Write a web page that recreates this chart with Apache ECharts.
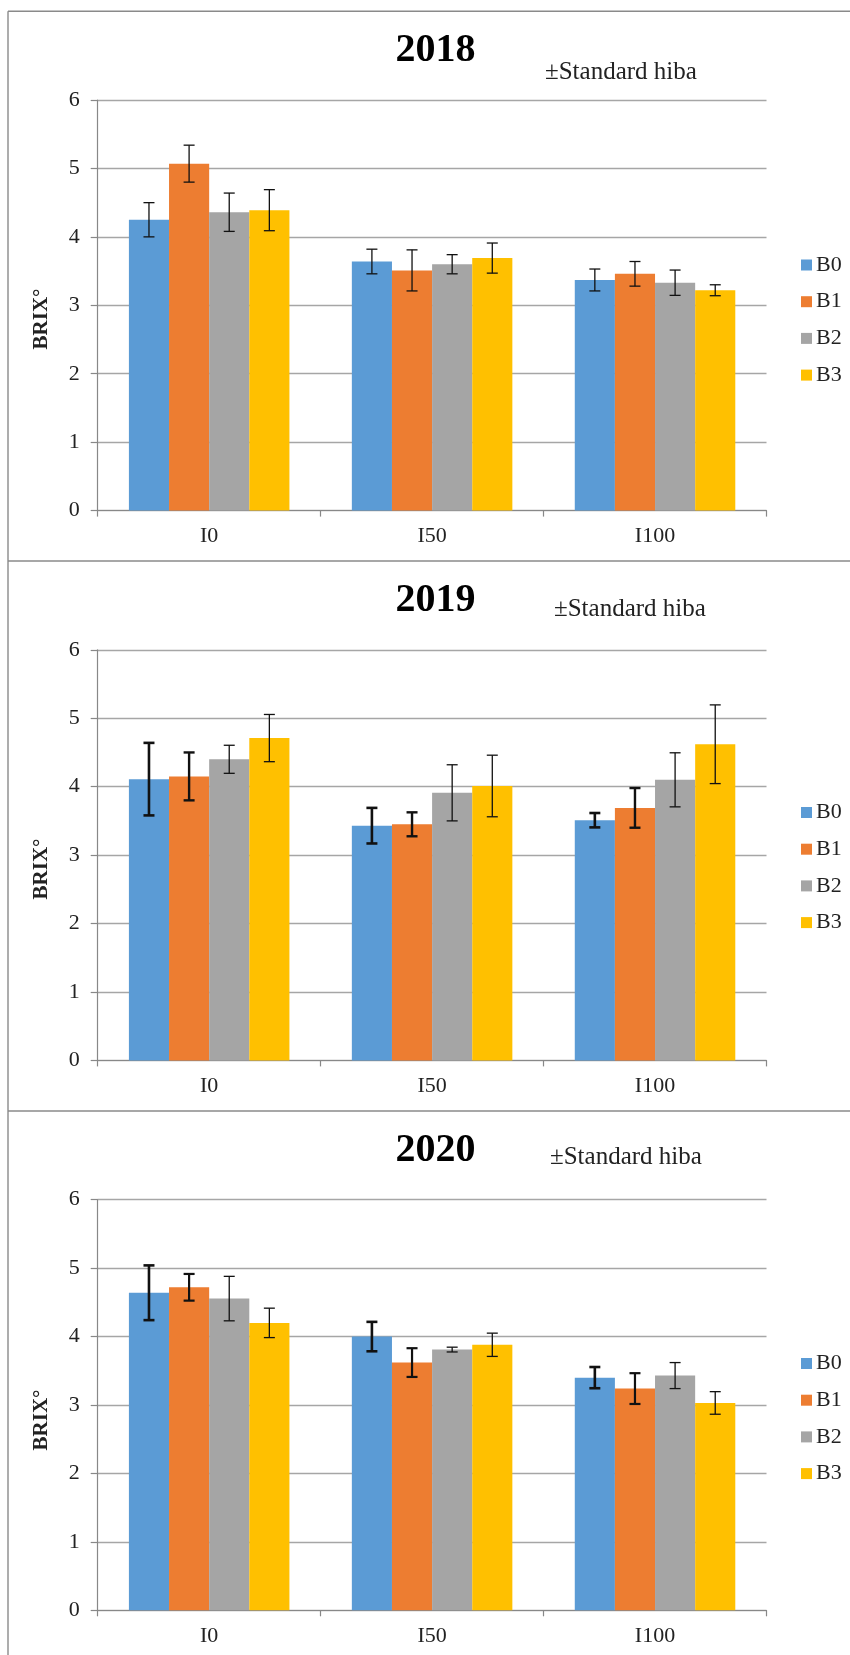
<!DOCTYPE html>
<html>
<head>
<meta charset="utf-8">
<title>BRIX° 2018–2020</title>
<script src="https://cdn.jsdelivr.net/npm/echarts@6/dist/echarts.min.js"></script>
<style>
  html, body { margin: 0; padding: 0; background: #fff; }
  #chart { width: 850px; height: 1655px; }
</style>
</head>
<body>
<div id="chart"></div>
<script>
// Irrigation levels on the x axis, treatments as the bar series
const categories = ['I0', 'I50', 'I100'];
const treatments = ['B0', 'B1', 'B2', 'B3'];
const years = ['2018', '2019', '2020'];
const yTicks = [0, 1, 2, 3, 4, 5, 6];

// Mean BRIX° per treatment (rows B0..B3, columns I0, I50, I100)
const brix2018 = [
  [4.25, 3.64, 3.37],
  [5.07, 3.51, 3.46],
  [4.36, 3.60, 3.33],
  [4.39, 3.69, 3.22]
];
const brix2019 = [
  [4.11, 3.43, 3.51],
  [4.15, 3.45, 3.69],
  [4.40, 3.91, 4.10],
  [4.71, 4.01, 4.62]
];
const brix2020 = [
  [4.64, 4.00, 3.40],
  [4.72, 3.62, 3.24],
  [4.555, 3.81, 3.43],
  [4.20, 3.88, 3.03]
];

// Standard error (±) for the same cells
const se2018 = [
  [0.25, 0.18, 0.16],
  [0.27, 0.30, 0.18],
  [0.28, 0.14, 0.185],
  [0.30, 0.22, 0.08]
];
const se2019 = [
  [0.53, 0.26, 0.105],
  [0.35, 0.175, 0.29],
  [0.205, 0.41, 0.395],
  [0.345, 0.45, 0.575]
];
const se2020 = [
  [0.40, 0.215, 0.155],
  [0.195, 0.21, 0.225],
  [0.325, 0.035, 0.19],
  [0.215, 0.17, 0.165]
];

const means = [brix2018, brix2019, brix2020];
const errors = [se2018, se2019, se2020];

// Styling
const colors = ['#5B9BD5', '#ED7D31', '#A5A5A5', '#FFC000'];
const serif = '"Liberation Serif", "Times New Roman", serif';
const textColor = '#222';
const gapPct = 28;                       // barCategoryGap, percent
const errLineWidth = [
  [1.3, 1.3, 1.3, 1.3],
  [2.6, 2.4, 1.3, 1.3],
  [2.6, 2.2, 1.3, 1.3]
];

// Panel geometry (pixels)
const panels = [
  { gridTop: 100,   titleY: 51,   noteX: 545, noteY: 72.5,  nameY: 319,  legendTop: 253 },
  { gridTop: 649.8, titleY: 601,  noteX: 554, noteY: 609.5, nameY: 869,  legendTop: 800.5 },
  { gridTop: 1199.7, titleY: 1151, noteX: 550, noteY: 1157.5, nameY: 1420, legendTop: 1351.5 }
];
const gridLeft = 97.7;
const gridRight = 83.5;
const gridHeight = 410.6;

const grid = [], xAxis = [], yAxis = [], series = [], legend = [], graphic = [];

// Panel frame lines
const frame = { stroke: '#8a8a8a', lineWidth: 1.4 };
graphic.push({ type: 'line', shape: { x1: 8, y1: 11.3, x2: 850, y2: 11.3 }, style: frame, silent: true });
graphic.push({ type: 'line', shape: { x1: 8, y1: 11.3, x2: 8, y2: 1655 }, style: frame, silent: true });
graphic.push({ type: 'line', shape: { x1: 8, y1: 561, x2: 850, y2: 561 }, style: frame, silent: true });
graphic.push({ type: 'line', shape: { x1: 8, y1: 1111, x2: 850, y2: 1111 }, style: frame, silent: true });

panels.forEach((p, k) => {
  grid.push({ left: gridLeft, right: gridRight, top: p.gridTop, height: gridHeight, containLabel: false });

  xAxis.push({
    type: 'category',
    gridIndex: k,
    data: categories,
    axisLine: { lineStyle: { color: '#888', width: 1.2 } },
    axisTick: { show: true, length: 6, lineStyle: { color: '#888', width: 1.2 } },
    axisLabel: { fontSize: 22, fontFamily: serif, color: textColor, margin: 15 },
    splitLine: { show: false }
  });

  yAxis.push({
    type: 'value',
    gridIndex: k,
    min: yTicks[0],
    max: yTicks[yTicks.length - 1],
    interval: 1,
    axisLine: { show: true, lineStyle: { color: '#888', width: 1.2 } },
    axisTick: { show: true, length: 7, lineStyle: { color: '#888', width: 1.2 } },
    axisLabel: { fontSize: 22, fontFamily: serif, color: textColor, margin: 18 },
    splitLine: { show: true, lineStyle: { color: '#a6a6a6', width: 1.3 } }
  });

  treatments.forEach((t, i) => {
    series.push({
      name: t,
      type: 'bar',
      xAxisIndex: k,
      yAxisIndex: k,
      data: means[k][i],
      barGap: '0%',
      barCategoryGap: gapPct + '%',
      itemStyle: { color: colors[i] },
      emphasis: { disabled: true },
      z: 2
    });
  });

  // Error bars drawn on the same category scale as the bars
  treatments.forEach((t, i) => {
    const data = categories.map((c, j) => [j, means[k][i][j], errors[k][i][j]]);
    series.push({
      name: 'hiba ' + years[k] + ' ' + t,
      type: 'custom',
      xAxisIndex: k,
      yAxisIndex: k,
      data: data,
      encode: { x: 0, y: 1 },
      z: 5,
      silent: true,
      renderItem: (params, api) => {
        const idx = api.value(0);
        const m = api.value(1);
        const e = api.value(2);
        const catW = api.size([1, 0])[0];
        const barW = catW * (1 - gapPct / 100) / treatments.length;
        const top = api.coord([idx, m + e]);
        const bot = api.coord([idx, m - e]);
        const x = top[0] + (i - (treatments.length - 1) / 2) * barW;
        const half = 5.5;
        const st = { stroke: '#111', lineWidth: errLineWidth[k][i] };
        return {
          type: 'group',
          children: [
            { type: 'line', shape: { x1: x, y1: top[1], x2: x, y2: bot[1] }, style: st },
            { type: 'line', shape: { x1: x - half, y1: top[1], x2: x + half, y2: top[1] }, style: st },
            { type: 'line', shape: { x1: x - half, y1: bot[1], x2: x + half, y2: bot[1] }, style: st }
          ]
        };
      }
    });
  });

  legend.push({
    data: treatments,
    orient: 'vertical',
    left: 801,
    top: p.legendTop,
    padding: 0,
    icon: 'rect',
    itemWidth: 11,
    itemHeight: 11,
    itemGap: 12.7,
    selectedMode: false,
    textStyle: { fontSize: 22, fontFamily: serif, color: textColor, lineHeight: 24, padding: [0, 0, 0, -1] }
  });

  // Year heading
  graphic.push({
    type: 'text',
    silent: true,
    style: {
      text: years[k], x: 435.5, y: p.titleY,
      textAlign: 'center', textVerticalAlign: 'middle',
      fontSize: 40, fontWeight: 'bold', fontFamily: serif, fill: '#000'
    }
  });

  // Error-bar note
  graphic.push({
    type: 'text',
    silent: true,
    style: {
      text: '±Standard hiba', x: p.noteX, y: p.noteY,
      textAlign: 'left', textVerticalAlign: 'middle',
      fontSize: 25, fontFamily: serif, fill: textColor
    }
  });

  // Y axis title
  graphic.push({
    type: 'text',
    silent: true,
    x: 41.7,
    y: p.nameY,
    rotation: Math.PI / 2,
    style: {
      text: 'BRIX°', x: 0, y: 0,
      textAlign: 'center', textVerticalAlign: 'middle',
      fontSize: 21, fontWeight: 'bold', fontFamily: serif, fill: textColor
    }
  });
});

const chart = echarts.init(document.getElementById('chart'), null, { renderer: 'canvas' });
chart.setOption({
  animation: false,
  backgroundColor: '#fff',
  grid, xAxis, yAxis, series, legend, graphic
});
</script>
</body>
</html>
